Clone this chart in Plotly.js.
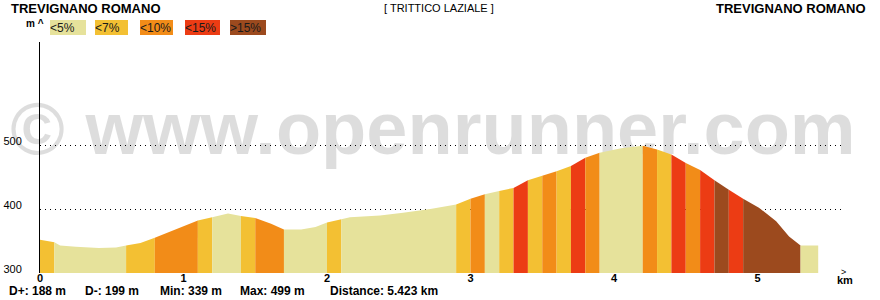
<!DOCTYPE html>
<html>
<head>
<meta charset="utf-8">
<script src="https://cdn.plot.ly/plotly-3.0.1.min.js"></script>
<style>
  html, body { margin: 0; padding: 0; background: #fff; }
  #chart { width: 880px; height: 300px; }
</style>
</head>
<body>
<div id="chart"></div>
<script>
// ---------------- DATA ----------------
const profileKm = [0, 0.10, 0.14, 0.25, 0.41, 0.53, 0.60, 0.70, 0.80, 0.95,
  1.10, 1.20, 1.31, 1.40, 1.50, 1.61, 1.70, 1.82, 1.92, 2.00,
  2.10, 2.16, 2.37, 2.53, 2.72, 2.90, 3.00, 3.10, 3.20, 3.30,
  3.40, 3.50, 3.60, 3.70, 3.80, 3.90, 4.05, 4.20, 4.30, 4.40,
  4.50, 4.60, 4.70, 4.80, 4.90, 5.01, 5.13, 5.22, 5.30, 5.423];
const profileElev = [352, 348, 343, 341, 339, 340, 343, 347, 355, 369,
  382, 387, 393, 389, 386, 377, 368, 368, 372, 379,
  384, 387, 390, 394, 400, 407, 416, 423, 428, 433,
  445, 452, 459, 467, 480, 488, 495, 499, 493, 485,
  472, 461, 445, 430, 416, 402, 381, 357, 343, 343];

const segStartKm = [0, 0.1, 0.6, 0.8, 1.1, 1.2, 1.4, 1.5, 1.7, 2.0, 2.1, 2.9, 3.0, 3.1, 3.2,
  3.3, 3.4, 3.5, 3.6, 3.7, 3.8, 3.9, 4.2, 4.3, 4.4, 4.5, 4.6, 4.7, 4.8, 4.9, 5.3];
const totalKm = 5.423;
const segGrade = [1, 0, 1, 2, 1, 0, 1, 2, 0, 1, 0, 1, 2, 0, 1,
  3, 1, 2, 1, 3, 2, 0, 2, 1, 3, 2, 3, 4, 3, 4, 0];

const gradeLabels = ['&lt;5%', '&lt;7%', '&lt;10%', '&lt;15%', '&gt;15%'];
const gradeColors = ['#E6E29B', '#F3C033', '#F28C18', '#EC3C14', '#9C4A1E'];

const titleLeft = 'TREVIGNANO ROMANO';
const titleCenter = '[ TRITTICO LAZIALE ]';
const titleRight = 'TREVIGNANO ROMANO';
const watermarkText = '\u00A9 www.openrunner.com';

const xTicks = [0, 1, 2, 3, 4, 5];
const yTicks = [300, 400, 500];

const statLabels = ['D+:', 'D-:', 'Min:', 'Max:', 'Distance:'];
const statValues = ['188 m', '199 m', '339 m', '499 m', '5.423 km'];

// ---------------- LAYOUT CONSTANTS ----------------
const FONT = 'Liberation Sans, Arial, Helvetica, sans-serif';
const W = 880, H = 300;
const M = { l: 40, r: 38, t: 42, b: 27 };
const plotW = W - M.l - M.r, plotH = H - M.t - M.b;
const pxPerKm = 143.5, pxPerM = 0.64;
const px2paperX = px => (px - M.l) / plotW;
const px2paperY = py => (H - M.b - py) / plotH;

function elevAt(k) {
  for (let i = 0; i < profileKm.length - 1; i++) {
    if (k <= profileKm[i + 1]) {
      const t = (k - profileKm[i]) / (profileKm[i + 1] - profileKm[i]);
      return profileElev[i] + t * (profileElev[i + 1] - profileElev[i]);
    }
  }
  return profileElev[profileElev.length - 1];
}

const traces = [];
// watermark (drawn first so the profile covers it)
traces.push({
  type: 'scatter', mode: 'text',
  x: [(433 - M.l) / pxPerKm], y: [300 + (H - M.b - 135) / pxPerM],
  text: [watermarkText],
  textposition: 'middle center',
  textfont: { family: FONT, size: 74, color: 'rgba(0,0,0,0.135)', weight: 'bold' },
  cliponaxis: false, hoverinfo: 'skip', showlegend: false
});

for (let s = 0; s < segStartKm.length; s++) {
  const a = segStartKm[s];
  const b = s + 1 < segStartKm.length ? segStartKm[s + 1] : totalKm;
  const xs = [a], ys = [elevAt(a)];
  for (let i = 0; i < profileKm.length; i++) {
    if (profileKm[i] > a + 1e-9 && profileKm[i] < b - 1e-9) { xs.push(profileKm[i]); ys.push(profileElev[i]); }
  }
  xs.push(b); ys.push(elevAt(b));
  traces.push({
    type: 'scatter', mode: 'lines', x: xs, y: ys,
    fill: 'tozeroy', fillcolor: gradeColors[segGrade[s]],
    line: { width: 0, color: gradeColors[segGrade[s]] },
    hoverinfo: 'skip', showlegend: false
  });
}

const annotations = [];
function txt(text, px, py, opts) {
  annotations.push(Object.assign({
    text: text, xref: 'paper', yref: 'paper',
    x: px2paperX(px), y: px2paperY(py), showarrow: false,
    xanchor: 'left', yanchor: 'middle',
    font: { family: FONT, size: 12, color: '#000' }
  }, opts || {}));
}
// titles
txt(titleLeft, 9, 8, { font: { family: FONT, size: 13, color: '#000', weight: 'bold' } });
txt(titleRight, 868, 8, { xanchor: 'right', font: { family: FONT, size: 13, color: '#000', weight: 'bold' } });
txt(titleCenter, 439, 8, { xanchor: 'center', font: { family: FONT, size: 11, color: '#000' } });
// m ^
txt('m ^', 46, 24, { xanchor: 'right', font: { family: FONT, size: 10, color: '#000', weight: 'bold' } });
// legend boxes
const legX = [50, 95, 140, 185, 230], legW = [36, 33, 33, 35, 36];
gradeLabels.forEach((g, i) => {
  annotations.push({
    text: g, xref: 'paper', yref: 'paper',
    x: px2paperX(legX[i]), y: px2paperY(20), xanchor: 'left', yanchor: 'top',
    width: legW[i], height: 15, align: 'left', valign: 'middle',
    bgcolor: gradeColors[i], borderpad: 0, borderwidth: 0, showarrow: false,
    font: { family: FONT, size: 12, color: '#1a1a1a' }
  });
});
// km arrow + label
txt('&gt;', 843, 272, { xanchor: 'center', font: { family: FONT, size: 9, color: '#000' } });
txt('km', 845, 280, { xanchor: 'center', font: { family: FONT, size: 11, color: '#000', weight: 'bold' } });
// stats
const statX = [7, 83, 158, 238, 328];
statLabels.forEach((l, i) => {
  txt(l + ' ' + statValues[i], statX[i], 291, { font: { family: FONT, size: 12, color: '#000', weight: 'bold' } });
});

const layout = {
  width: W, height: H, margin: M,
  paper_bgcolor: '#fff', plot_bgcolor: '#fff',
  showlegend: false, hovermode: false,
  xaxis: {
    range: [0, plotW / pxPerKm], tickvals: xTicks, ticktext: xTicks.map(String),
    showgrid: false, zeroline: false, showline: false, ticks: '',
    tickfont: { family: FONT, size: 11, color: '#000', weight: 'bold' },
    ticklabelstandoff: -3, fixedrange: true
  },
  yaxis: {
    range: [300, 300 + plotH / pxPerM], tickvals: yTicks, ticktext: yTicks.map(String),
    showgrid: true, gridcolor: '#000', gridwidth: 1, griddash: '1px,4px',
    zeroline: false, showline: true, linecolor: '#000', linewidth: 1, ticks: '',
    tickfont: { family: FONT, size: 11, color: '#000' },
    ticklabelstandoff: 15, ticklabelshift: -4, fixedrange: true
  },
  annotations: annotations
};

Plotly.newPlot('chart', traces, layout, { staticPlot: true, displayModeBar: false });
</script>
</body>
</html>
